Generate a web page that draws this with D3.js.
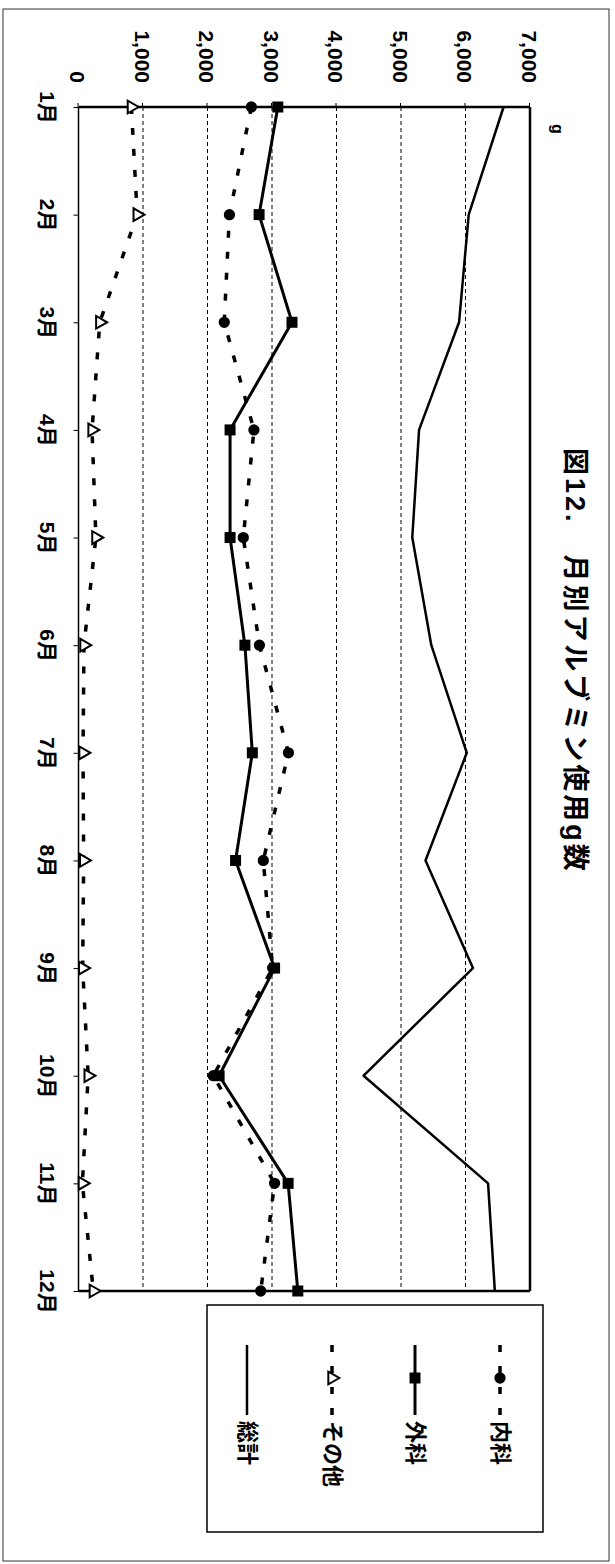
<!DOCTYPE html>
<html>
<head>
<meta charset="utf-8">
<script src="https://cdn.jsdelivr.net/npm/d3@7"></script>
<style>
  html, body { margin: 0; padding: 0; background: #fff; }
  svg { display: block; }
  text { font-family: "Liberation Sans", "Noto Sans CJK JP", sans-serif; font-weight: bold; fill: #000; }
</style>
</head>
<body>
<script>
// Monthly albumin usage (g), by department
const months = ["1月","2月","3月","4月","5月","6月","7月","8月","9月","10月","11月","12月"];
const naika  = [2680, 2340, 2260, 2720, 2555, 2805, 3255, 2865, 3010, 2090, 3040, 2825]; // 内科
const geka   = [3090, 2800, 3310, 2350, 2350, 2580, 2695, 2435, 3040, 2180, 3250, 3400]; // 外科
const sonota = [820, 910, 330, 210, 270, 85, 70, 80, 65, 150, 60, 230];                    // その他
const total  = [6590, 6050, 5900, 5280, 5175, 5470, 6020, 5380, 6115, 4420, 6350, 6455];  // 総計
const valueTicks = [0, 1000, 2000, 3000, 4000, 5000, 6000, 7000];
const seriesNames = ["内科", "外科", "その他", "総計"];
const titleText = "図12.　月別アルブミン使用g数";
const unitText = "g";

const W = 615, H = 1564;
const svg = d3.select("body").append("svg").attr("width", W).attr("height", H);

// page frame
svg.append("rect").attr("x", 3).attr("y", 9).attr("width", 606).attr("height", 1552)
  .attr("fill", "none").attr("stroke", "#333").attr("stroke-width", 1);

// The chart is laid out landscape (1564 x 615) and turned a quarter clockwise
const g = svg.append("g").attr("transform", `translate(${W},0) rotate(90)`);

const x = d3.scalePoint().domain(months).range([107, 1291]);
const y = d3.scaleLinear().domain([0, 7000]).range([536.5, 85]);

// gridlines
g.append("g").selectAll("line").data(valueTicks.filter(v => v > 0 && v < 7000)).join("line")
  .attr("x1", 107).attr("x2", 1291)
  .attr("y1", d => y(d)).attr("y2", d => y(d))
  .attr("stroke", "#000").attr("stroke-width", 1).attr("stroke-dasharray", "4,3");

// value axis
const yAxis = g.append("g").attr("transform", "translate(107,0)")
  .call(d3.axisLeft(y).tickValues(valueTicks).tickFormat(d3.format(",")).tickSize(4).tickPadding(20));
yAxis.select(".domain").remove();
yAxis.selectAll("line").attr("stroke", "#000");
yAxis.selectAll("text").attr("font-size", 21).attr("dy", "0.36em")
  .style("font-family", '"Liberation Sans", "Noto Sans CJK JP", sans-serif').style("font-weight", "bold");

// category axis
const xAxis = g.append("g").attr("transform", "translate(0,536.5)")
  .call(d3.axisBottom(x).tickSize(5).tickPadding(23));
xAxis.select(".domain").remove();
xAxis.selectAll("line").attr("stroke", "#000");
xAxis.selectAll("text").attr("font-size", 21).attr("dy", "0.5em")
  .style("font-family", '"Liberation Sans", "Noto Sans CJK JP", sans-serif').style("font-weight", "bold");

// plot frame
g.append("line").attr("x1", 107).attr("x2", 1291).attr("y1", 536.5).attr("y2", 536.5)
  .attr("stroke", "#000").attr("stroke-width", 1.5);
g.append("line").attr("x1", 107).attr("x2", 1291).attr("y1", 85).attr("y2", 85)
  .attr("stroke", "#000").attr("stroke-width", 2.5);
g.append("line").attr("x1", 107).attr("x2", 107).attr("y1", 85).attr("y2", 536.5)
  .attr("stroke", "#000").attr("stroke-width", 2.5);
g.append("line").attr("x1", 1291).attr("x2", 1291).attr("y1", 85).attr("y2", 536.5)
  .attr("stroke", "#000").attr("stroke-width", 2.5);

const line = d3.line().x((d, i) => x(months[i])).y(d => y(d));

const styles = [
  { data: naika,  width: 3.5, dash: "7,14", marker: "circle" },
  { data: geka,   width: 3,   dash: null,   marker: "square" },
  { data: sonota, width: 3.5, dash: "7,14", marker: "triangle" },
  { data: total,  width: 2.5, dash: null,   marker: null }
];

const sym = {
  circle: d3.symbol().type(d3.symbolCircle).size(100),
  square: d3.symbol().type(d3.symbolSquare).size(121),
  triangle: d3.symbol().type(d3.symbolTriangle).size(70)
};

function drawMarker(sel, kind, cx, cy) {
  const p = sel.append("path").attr("d", sym[kind]()).attr("transform", `translate(${cx},${cy})`);
  if (kind === "triangle") p.attr("fill", "#fff").attr("stroke", "#000").attr("stroke-width", 2);
  else p.attr("fill", "#000");
}

styles.forEach(s => {
  g.append("path").datum(s.data).attr("d", line)
    .attr("fill", "none").attr("stroke", "#000").attr("stroke-width", s.width)
    .attr("stroke-dasharray", s.dash).attr("stroke-linejoin", "round");
});
styles.forEach(s => {
  if (!s.marker) return;
  const mg = g.append("g");
  s.data.forEach((v, i) => drawMarker(mg, s.marker, x(months[i]), y(v)));
});

// unit label
g.append("text").attr("x", 129).attr("y", 58).attr("text-anchor", "middle")
  .attr("dominant-baseline", "central").attr("font-size", 16).text(unitText);

// title
g.append("text").attr("x", 448).attr("y", 40).attr("dominant-baseline", "central")
  .attr("font-size", 27).attr("letter-spacing", 3).attr("xml:space", "preserve").text(titleText);

// legend
const lg = g.append("g");
lg.append("rect").attr("x", 1305).attr("y", 72).attr("width", 227).attr("height", 336)
  .attr("fill", "#fff").attr("stroke", "#000").attr("stroke-width", 1.5);
const legendV = [115, 200, 283, 368];
seriesNames.forEach((name, i) => {
  const s = styles[i], v = legendV[i];
  lg.append("line").attr("x1", 1345).attr("x2", 1415).attr("y1", v).attr("y2", v)
    .attr("stroke", "#000").attr("stroke-width", s.width).attr("stroke-dasharray", s.dash);
  if (s.marker) drawMarker(lg, s.marker, 1378, v);
  lg.append("text").attr("x", 1421).attr("y", v).attr("dominant-baseline", "central")
    .attr("font-size", 22).text(name);
});
</script>
</body>
</html>
